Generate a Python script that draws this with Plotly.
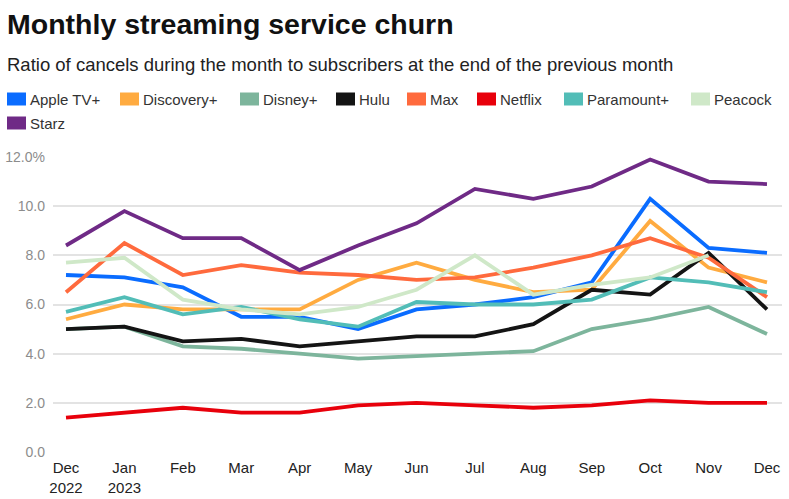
import plotly.graph_objects as go

# ---------------- data ----------------
months = ["Dec 2022", "Jan 2023", "Feb 2023", "Mar 2023", "Apr 2023", "May 2023", "Jun 2023",
          "Jul 2023", "Aug 2023", "Sep 2023", "Oct 2023", "Nov 2023", "Dec 2023"]
month_labels = ["Dec<br>2022", "Jan<br>2023", "Feb", "Mar", "Apr", "May", "Jun",
                "Jul", "Aug", "Sep", "Oct", "Nov", "Dec"]

apple_tv = [7.2, 7.1, 6.7, 5.5, 5.5, 5.0, 5.8, 6.0, 6.3, 6.9, 10.3, 8.3, 8.1]
discovery = [5.4, 6.0, 5.8, 5.8, 5.8, 7.0, 7.7, 7.0, 6.5, 6.6, 9.4, 7.5, 6.9]
disney = [5.0, 5.1, 4.3, 4.2, 4.0, 3.8, 3.9, 4.0, 4.1, 5.0, 5.4, 5.9, 4.8]
hulu = [5.0, 5.1, 4.5, 4.6, 4.3, 4.5, 4.7, 4.7, 5.2, 6.6, 6.4, 8.1, 5.8]
max_ = [6.5, 8.5, 7.2, 7.6, 7.3, 7.2, 7.0, 7.1, 7.5, 8.0, 8.7, 7.9, 6.3]
netflix = [1.4, 1.6, 1.8, 1.6, 1.6, 1.9, 2.0, 1.9, 1.8, 1.9, 2.1, 2.0, 2.0]
paramount = [5.7, 6.3, 5.6, 5.9, 5.4, 5.1, 6.1, 6.0, 6.0, 6.2, 7.1, 6.9, 6.5]
peacock = [7.7, 7.9, 6.2, 5.8, 5.6, 5.9, 6.6, 8.0, 6.4, 6.8, 7.1, 8.0, None]
starz = [8.4, 9.8, 8.7, 8.7, 7.4, 8.4, 9.3, 10.7, 10.3, 10.8, 11.9, 11.0, 10.9]

series_names = ["Apple TV+", "Discovery+", "Disney+", "Hulu", "Max", "Netflix",
                "Paramount+", "Peacock", "Starz"]
series_values = [apple_tv, discovery, disney, hulu, max_, netflix, paramount, peacock, starz]

y_ticks = [0, 2, 4, 6, 8, 10, 12]
y_tick_labels = ["0.0", "2.0", "4.0", "6.0", "8.0", "10.0", "12.0%"]

# ---------------- styles ----------------
colors = ["#0a6cff", "#ffab40", "#7db59c", "#141414", "#ff6a3d", "#e8000b",
          "#52bdb7", "#cfe8c8", "#6f2a86"]
FONT = "Liberation Sans, Arial, sans-serif"

W, H = 789, 499
L, R, T, B = 53, 7, 157, 47
plot_w = W - L - R
plot_h = H - T - B


def px2x(px):
    return (px - L) / plot_w


def px2y(py):
    return (H - B - py) / plot_h


fig = go.Figure()
for name, vals, col in zip(series_names, series_values, colors):
    fig.add_trace(go.Scatter(
        x=months, y=vals, name=name, mode="lines",
        line=dict(color=col, width=3.8),
        connectgaps=False, showlegend=False,
        hovertemplate="%{x}: %{y:.1f}%<extra>" + name + "</extra>",
    ))

# custom legend (swatch + text) to mirror the reference
legend_px = [(7, 99), (120, 99), (240, 99), (336, 99), (407, 99), (477, 99),
             (564, 99), (691, 99), (7, 123)]
shapes = []
annotations = []
for (lx, ly), name, col in zip(legend_px, series_names, colors):
    shapes.append(dict(type="rect", xref="paper", yref="paper",
                       x0=px2x(lx), x1=px2x(lx + 19),
                       y0=px2y(ly + 6.5), y1=px2y(ly - 6.5),
                       fillcolor=col, line=dict(width=0)))
    annotations.append(dict(xref="paper", yref="paper", x=px2x(lx + 21), y=px2y(ly),
                            xanchor="left", yanchor="middle", showarrow=False,
                            text=name, font=dict(size=15, color="#333333", family=FONT)))

# title and subtitle
annotations.append(dict(xref="paper", yref="paper", x=px2x(5), y=px2y(24),
                        xanchor="left", yanchor="middle", showarrow=False,
                        text="<b>Monthly streaming service churn</b>",
                        font=dict(size=28.5, color="#111111", family=FONT)))
annotations.append(dict(xref="paper", yref="paper", x=px2x(5), y=px2y(64),
                        xanchor="left", yanchor="middle", showarrow=False,
                        text="Ratio of cancels during the month to subscribers at the end of the previous month",
                        font=dict(size=18.5, color="#222222", family=FONT)))

fig.update_layout(
    width=W, height=H,
    margin=dict(l=L, r=R, t=T, b=B, pad=0, autoexpand=False),
    paper_bgcolor="white", plot_bgcolor="white",
    shapes=shapes, annotations=annotations,
    showlegend=False,
    xaxis=dict(
        type="category", tickvals=months, ticktext=month_labels,
        range=[-0.2225, 12.257], showgrid=False, zeroline=False, showline=False,
        ticks="", tickfont=dict(size=15, color="#222222", family=FONT),
        ticklabelstandoff=5, automargin=False, fixedrange=True,
    ),
    yaxis=dict(
        range=[0, 12], tickvals=y_ticks, ticktext=y_tick_labels,
        showgrid=True, gridcolor="#e3e3e3", gridwidth=2,
        zeroline=False, showline=False, ticks="",
        tickfont=dict(size=14, color="#8c8c8c", family=FONT),
        ticklabelstandoff=7, automargin=False, fixedrange=True,
    ),
)

fig.write_html("out.html", config={"displayModeBar": False},
               post_script="document.body.style.margin='0';")
